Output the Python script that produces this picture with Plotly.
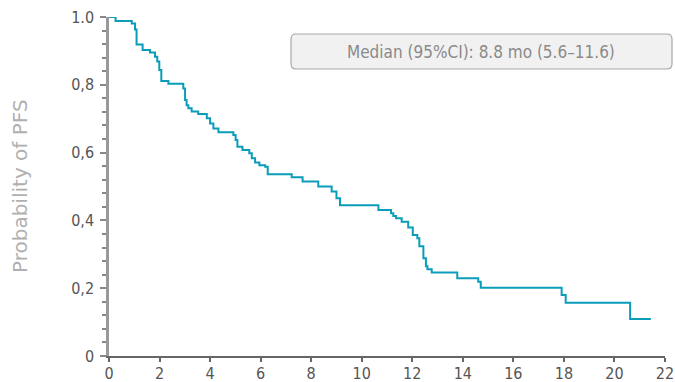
import plotly.graph_objects as go

# Kaplan-Meier PFS curve (months, survival probability)
time_mo = [0, 0.26, 0.9, 1.03, 1.09, 1.33, 1.62, 1.82, 1.91, 1.99, 2.07, 2.35, 2.94, 3.01, 3.07,
           3.14, 3.27, 3.53, 3.87, 4.0, 4.13, 4.33, 4.92, 5.01, 5.08, 5.28, 5.55, 5.65, 5.78,
           5.95, 6.18, 6.28, 7.23, 7.66, 8.28, 8.81, 9.0, 9.14, 10.66, 11.16, 11.25, 11.36,
           11.58, 11.84, 12.02, 12.2, 12.28, 12.44, 12.54, 12.6, 12.77, 13.78, 14.61, 14.71,
           17.91, 18.07, 20.62, 21.44]
surv = [1.0, 0.988, 0.981, 0.963, 0.919, 0.903, 0.895, 0.883, 0.869, 0.844, 0.811, 0.803, 0.789,
        0.755, 0.740, 0.731, 0.721, 0.714, 0.701, 0.686, 0.671, 0.660, 0.652, 0.637, 0.617,
        0.608, 0.598, 0.583, 0.571, 0.563, 0.558, 0.536, 0.527, 0.515, 0.500, 0.485, 0.465,
        0.445, 0.431, 0.421, 0.413, 0.406, 0.396, 0.379, 0.357, 0.347, 0.324, 0.288, 0.265,
        0.256, 0.246, 0.229, 0.219, 0.201, 0.180, 0.157, 0.109, 0.109]

y_tickvals = [0, 0.2, 0.4, 0.6, 0.8, 1.0]
y_ticktext = ["0", "0,2", "0,4", "0,6", "0,8", "1.0"]
x_tickvals = list(range(0, 23, 2))
median_text = "Median (95%CI): 8.8 mo (5.6\u201311.6)"
y_title = "Probability of PFS"

W, H = 675, 382
ML, MR, MT, MB = 109, 10, 17, 26

fig = go.Figure()
fig.add_trace(go.Scatter(
    x=time_mo, y=surv, mode="lines",
    line=dict(shape="hv", color="#0a9dba", width=2),
    showlegend=False, hoverinfo="skip", cliponaxis=False,
))

tickfont = dict(family="DejaVu Sans Condensed, Liberation Sans Narrow, sans-serif", size=16, color="#555555")

fig.update_layout(
    width=W, height=H,
    margin=dict(l=ML, r=MR, t=MT, b=MB, autoexpand=False),
    paper_bgcolor="white", plot_bgcolor="white",
    xaxis=dict(
        range=[0, 22], tickmode="array", tickvals=x_tickvals, automargin=False,
        ticks="outside", ticklen=4, tickwidth=1.5, tickcolor="#666666",
        showline=True, linecolor="#666666", linewidth=1.5,
        showgrid=False, zeroline=False, tickfont=tickfont, ticklabelstandoff=-2,
    ),
    yaxis=dict(
        range=[0, 1.0], tickmode="array", tickvals=y_tickvals, ticktext=y_ticktext, automargin=False,
        ticks="outside", ticklen=6, tickwidth=1.5, tickcolor="#888888",
        minor=dict(dtick=0.04, tick0=0, ticks="outside", ticklen=4, tickwidth=1.5, tickcolor="#888888"),
        showline=True, linecolor="#999999", linewidth=2.5,
        showgrid=False, zeroline=False, tickfont=tickfont, ticklabelstandoff=3,
    ),
)

pw, ph = W - ML - MR, H - MT - MB
def px(x): return (x - ML) / pw
def py(y): return 1 - (y - MT) / ph

# y-axis title
fig.add_annotation(x=px(20), y=py(186), xref="paper", yref="paper", text=y_title,
                   textangle=-90, showarrow=False, xanchor="center", yanchor="middle",
                   font=dict(family="DejaVu Sans, sans-serif", size=20, color="#b0b0b0"))

# rounded box for the median annotation
x0, x1, y0, y1, r = 291, 672, 34, 69, 5
path = (f"M {px(x0+r)} {py(y0)} L {px(x1-r)} {py(y0)} Q {px(x1)} {py(y0)} {px(x1)} {py(y0+r)} "
        f"L {px(x1)} {py(y1-r)} Q {px(x1)} {py(y1)} {px(x1-r)} {py(y1)} "
        f"L {px(x0+r)} {py(y1)} Q {px(x0)} {py(y1)} {px(x0)} {py(y1-r)} "
        f"L {px(x0)} {py(y0+r)} Q {px(x0)} {py(y0)} {px(x0+r)} {py(y0)} Z")
fig.add_shape(type="path", path=path, xref="paper", yref="paper",
              fillcolor="#f1f1f1", line=dict(color="#a8a8a8", width=1.2), layer="below")
fig.add_annotation(x=px(481), y=py(52), xref="paper", yref="paper",
                   text=median_text, showarrow=False, xanchor="center", yanchor="middle",
                   font=dict(family="DejaVu Sans Condensed, sans-serif", size=17, color="#8a8a8a"))

fig.write_html("out.html")
